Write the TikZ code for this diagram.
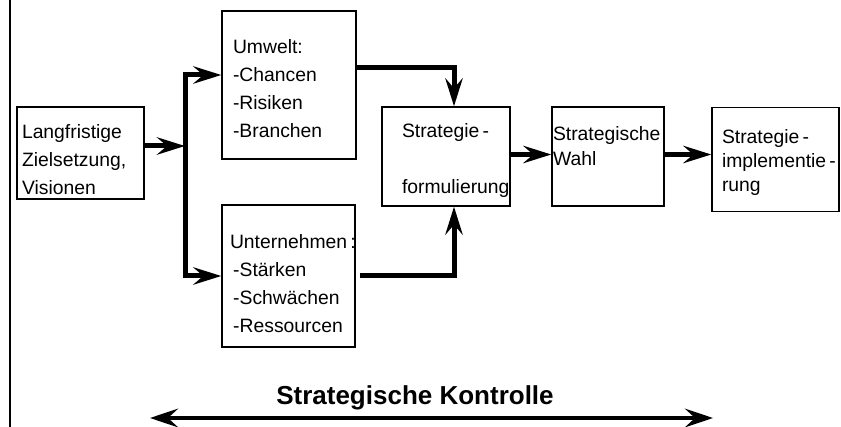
\documentclass[tikz,border=0pt]{standalone}
\usepackage{fontspec}
\setmainfont{Liberation Sans}
\usetikzlibrary{arrows.meta}

\newcommand{\topgap}[1]{\rule{0pt}{#1}}
\newcommand{\botgap}[1]{\rule[-#1]{0pt}{0pt}}

\tikzset{
  box/.style={draw, line width=1pt, align=left, inner ysep=0pt,
    font=\fontsize{14.5}{21}\selectfont},
  flow/.style={line width=3.75pt, -{Stealth[length=21pt,width=13pt,inset=7.5pt]}},
  ctrl/.style={line width=3pt, {Stealth[length=21pt,width=14pt,inset=7.5pt]}-{Stealth[length=21pt,width=14pt,inset=7.5pt]}},
}

\begin{document}
\begin{tikzpicture}[x=0.75pt,y=0.75pt,yscale=-1,xscale=1]
\useasboundingbox (0,0) rectangle (841,427);

%Straight Lines
\draw [line width=1pt] (10,0) -- (10,427);

% Boxes
\node [box, minimum width=95.25pt, minimum height=69pt, inner xsep=3.75pt, text width=87.75pt] (ziel) at (80.5,153) {\topgap{20pt}Langfristige\\Zielsetzung,\\Visionen};
\node [box, minimum width=100.5pt, minimum height=111pt, inner xsep=8.25pt, text width=84pt] (umwelt) at (289,85) {\topgap{16.5pt}Umwelt:\\-Chancen\\-Risiken\\-Branchen};
\node [box, minimum width=99.75pt, minimum height=106.5pt, inner xsep=6pt, text width=87.75pt] (untern) at (288.5,276) {\topgap{22pt}Unternehmen\,:\\\,-Stärken\\\,-Schwächen\\\,-Ressourcen};
\node [box, minimum width=96pt, minimum height=74.25pt, inner xsep=15pt, text width=66pt] (form) at (446,156.5) {\topgap{16.5pt}Strategie\,-\\[21pt]formulierung};
\node [box, minimum width=84pt, minimum height=74.25pt, inner xsep=0.75pt, text width=82.5pt, font=\fontsize{14.5}{18.75}\selectfont] (wahl) at (608,156.5) {Strategische\\Wahl\botgap{16.5pt}};
\node [box, minimum width=95.25pt, minimum height=78pt, inner xsep=7.5pt, text width=80.25pt, font=\fontsize{14.5}{18}\selectfont] (impl) at (775.5,159.5) {\topgap{15pt}\mbox{Strategie\,-}\\\mbox{implementie\,-}\\rung};

% Text Node
\node [font=\bfseries\fontsize{19.5}{23}\selectfont] (kontrolle) at (415,398) {Strategische Kontrolle};

%Connectors
\coordinate (split) at (185,146);
\draw [flow] (ziel.east |- split) -- (split);
\draw [flow] (split) |- ([yshift=-7.5pt]umwelt.west);
\draw [flow] (split) |- (untern.west);
\draw [flow] ([yshift=-12.75pt]umwelt.east) -| ([xshift=6pt]form.north);
\draw [flow] ([xshift=3pt]untern.east) -| ([xshift=6pt]form.south);
\draw [flow] ([yshift=-1.5pt]form.east) -- ([yshift=-1.5pt]wahl.west);
\draw [flow] ([yshift=-1.5pt]wahl.east) -- ([yshift=-1.5pt]wahl.east -| impl.west);

%Double Arrow
\coordinate (kleft) at (150,418);
\coordinate (kright) at (713,418);
\draw [ctrl] (kleft) -- (kright);

\end{tikzpicture}
\end{document}
